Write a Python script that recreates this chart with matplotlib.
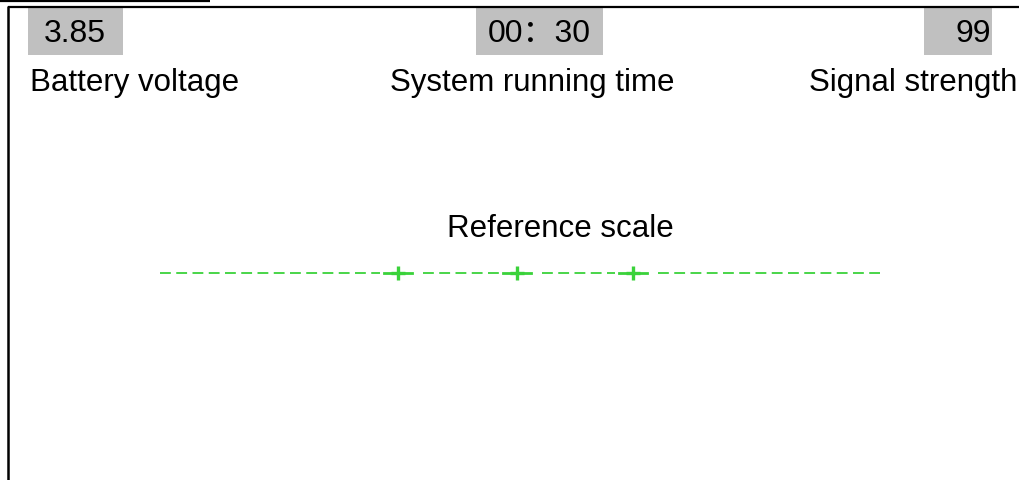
import matplotlib
matplotlib.use('Agg')
import matplotlib.pyplot as plt
from matplotlib.patches import Rectangle

plt.rcParams['font.family'] = ['Liberation Sans', 'Noto Sans CJK SC', 'DejaVu Sans']

# 状态栏数据
values = ['3.85', '00：30', '99']
labels = ['Battery voltage', 'System running time', 'Signal strength']

# 参考刻度: 刻度点位置 与 虚线范围
scale_ticks = [398, 517, 633]
scale_range = [160, 880]
scale_title = 'Reference scale'

fig = plt.figure(figsize=(10.2, 4.81), dpi=100)
ax = fig.add_axes([0, 0, 1, 1])
ax.set_xlim(0, 1020)
ax.set_ylim(481, 0)
ax.axis('off')

# 边框
ax.plot([0, 210], [1.5, 1.5], color='black', lw=1.6, solid_capstyle='butt')
ax.plot([8, 1020], [7.5, 7.5], color='black', lw=1.6, solid_capstyle='butt')
ax.plot([8.5, 8.5], [7, 481], color='black', lw=1.8, solid_capstyle='butt')

# 灰色数值框
boxes = [(28, 123), (476, 603), (924, 992)]
for (x0, x1), v, i in zip(boxes, values, range(3)):
    ax.add_patch(Rectangle((x0, 9), x1 - x0, 47, color='#c0c0c0', lw=0))
    if i == 0:
        ax.text(x0 + 16, 34, v, fontsize=23, va='center', ha='left')
    elif i == 1:
        ax.text((x0 + x1) / 2, 34, v, fontsize=23, va='center', ha='center')
    else:
        ax.text(x1 - 1, 34, v, fontsize=23, va='center', ha='right')

# 标签
ax.text(30, 83, labels[0], fontsize=22.5, va='center', ha='left')
ax.text(532, 83, labels[1], fontsize=22.5, va='center', ha='center')
ax.text(1017, 83, labels[2], fontsize=22.5, va='center', ha='right')

# 参考刻度
ax.text(560, 229, scale_title, fontsize=22.5, va='center', ha='center')
green = '#3ad23a'
edges = [scale_range[0]] + [v for t in scale_ticks for v in (t - 18, t + 25)] + [scale_range[1]]
for a, b in zip(edges[::2], edges[1::2]):
    ax.plot([a, b], [274, 274], color=green, lw=1.3, dashes=(6, 3))
for t in scale_ticks:
    ax.plot([t - 14, t + 14], [274, 274], color=green, lw=2)
    ax.plot([t], [274], marker='+', color=green, ms=10, mew=2.4)

fig.savefig('out.png', dpi=100)
